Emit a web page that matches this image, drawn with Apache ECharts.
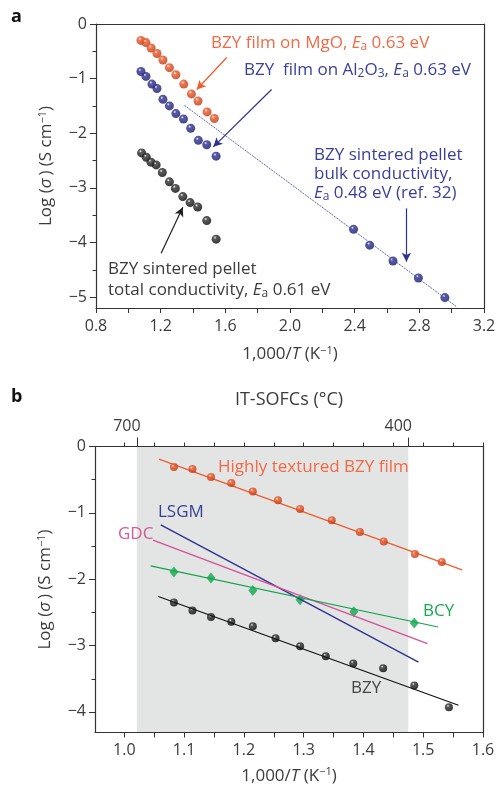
<!DOCTYPE html>
<html>
<head>
<meta charset="utf-8">
<script src="https://cdn.jsdelivr.net/npm/echarts@6.0.0/dist/echarts.min.js"></script>
<style>
html, body { margin: 0; padding: 0; background: #fff; }
#main { width: 499px; height: 786px; }
</style>
</head>
<body>
<div id="main"></div>
<script>
// panel a data
var mgoX = [1.078, 1.109, 1.141, 1.177, 1.214, 1.254, 1.294, 1.343, 1.390, 1.431, 1.487, 1.532];
var mgoY = [-0.30, -0.34, -0.44, -0.54, -0.66, -0.80, -0.93, -1.10, -1.28, -1.41, -1.61, -1.73];
var alX = [1.078, 1.109, 1.146, 1.177, 1.214, 1.254, 1.294, 1.341, 1.386, 1.433, 1.485, 1.543];
var alY = [-0.87, -0.96, -1.10, -1.18, -1.38, -1.50, -1.64, -1.74, -1.91, -2.13, -2.21, -2.42];
var totX = [1.082, 1.111, 1.140, 1.172, 1.210, 1.254, 1.291, 1.337, 1.382, 1.429, 1.485, 1.543];
var totY = [-2.36, -2.44, -2.53, -2.58, -2.72, -2.89, -3.01, -3.16, -3.27, -3.35, -3.60, -3.94];
var bulkX = [2.393, 2.493, 2.637, 2.794, 2.958];
var bulkY = [-3.76, -4.05, -4.34, -4.65, -5.01];
var bulkFitX = [1.347, 3.032];
var bulkFitY = [-1.49, -5.18];

// panel b data
var filmX = [1.083, 1.114, 1.145, 1.179, 1.215, 1.257, 1.294, 1.347, 1.394, 1.434, 1.486, 1.531];
var filmY = [-0.31, -0.34, -0.46, -0.55, -0.68, -0.81, -0.94, -1.11, -1.29, -1.43, -1.62, -1.74];
var filmFitX = [1.058, 1.565];
var filmFitY = [-0.19, -1.86];
var lsgmX = [1.061, 1.492];
var lsgmY = [-1.18, -3.25];
var gdcX = [1.048, 1.507];
var gdcY = [-1.41, -2.97];
var bcyX = [1.083, 1.145, 1.215, 1.294, 1.384, 1.485];
var bcyY = [-1.89, -1.98, -2.17, -2.31, -2.49, -2.66];
var bcyFitX = [1.044, 1.525];
var bcyFitY = [-1.80, -2.72];
var bzyX = [1.083, 1.114, 1.145, 1.179, 1.215, 1.253, 1.294, 1.337, 1.383, 1.433, 1.485, 1.543];
var bzyY = [-2.35, -2.47, -2.57, -2.64, -2.71, -2.89, -3.01, -3.16, -3.27, -3.34, -3.60, -3.93];
var bzyFitX = [1.057, 1.559];
var bzyFitY = [-2.26, -3.90];

// ticks
var aXTicks = [0.8, 1.0, 1.2, 1.4, 1.6, 1.8, 2.0, 2.2, 2.4, 2.6, 2.8, 3.0, 3.2];
var aXLabels = [0.8, 1.2, 1.6, 2.0, 2.4, 2.8, 3.2];
var aYLabels = [0, -1, -2, -3, -4, -5];
var aYMinor = [-0.5, -1.5, -2.5, -3.5, -4.5];
var bXTicks = [1.0, 1.05, 1.1, 1.15, 1.2, 1.25, 1.3, 1.35, 1.4, 1.45, 1.5, 1.55, 1.6];
var bXLabels = [1.0, 1.1, 1.2, 1.3, 1.4, 1.5, 1.6];
var bYLabels = [0, -1, -2, -3, -4];
var bYMinor = [-0.5, -1.5, -2.5, -3.5];
var tempTicks = [1.021, 1.475];
var tempLabels = ['700', '400'];
var sofcRange = [1.021, 1.475];

var ink = '#333';
var txt = '#3c3c3c';
var font = 'Open Sans';
var red = '#f15a29', navy = '#2e3192', pink = '#d6519a', green = '#10a64c';

function pairs(xs, ys) {
    return xs.map(function (x, i) { return [x, ys[i]]; });
}
function sphere(base, dark) {
    return {
        type: 'radial', x: 0.38, y: 0.32, r: 0.75,
        colorStops: [
            { offset: 0, color: '#ffffff' },
            { offset: 0.22, color: base },
            { offset: 1, color: dark }
        ]
    };
}
function yFmt(v) { return v === 0 ? '0' : '\u2212' + Math.abs(v); }
function nameStyle() {
    return {
        color: txt, fontSize: 17, fontFamily: font,
        rich: {
            i: { fontStyle: 'italic', color: txt, fontSize: 17, fontFamily: font },
            sup: { color: txt, fontSize: 11, fontFamily: font, padding: [0, 0, 8, 0] }
        }
    };
}
function lineAxis(grid, pos, min, max) {
    return {
        type: 'value', gridIndex: grid, position: pos, min: min, max: max, z: 5,
        axisLine: { onZero: false, lineStyle: { color: ink, width: 1.2 } },
        axisTick: { show: false }, axisLabel: { show: false }, splitLine: { show: false }
    };
}
function minorAxis(grid, pos, min, max, ticks, len) {
    return {
        type: 'value', gridIndex: grid, position: pos, min: min, max: max, z: 5,
        axisLine: { show: pos === 'top', onZero: false, lineStyle: { color: ink, width: 1.2 } },
        axisTick: { customValues: ticks, length: len, lineStyle: { color: ink } },
        axisLabel: { show: false }, splitLine: { show: false }
    };
}
function rich(color, size) {
    return {
        i: { fontStyle: 'italic', fill: color, fontSize: size, fontFamily: font },
        sub: { fill: color, fontSize: Math.round(size * 0.68), fontFamily: font, padding: [Math.round(size * 0.45), 0, 0, 0] }
    };
}
function note(x, y, text, color, lh) {
    return {
        type: 'text', x: x, y: y, z: 10,
        style: {
            text: text, fill: color, fontSize: 17, fontFamily: font,
            lineHeight: lh || 20, verticalAlign: 'middle', rich: rich(color, 17)
        }
    };
}
function arrow(x1, y1, x2, y2, color) {
    return [
        { coord: [x1, y1], lineStyle: { color: color, width: 1.2, type: 'solid' } },
        { coord: [x2, y2] }
    ];
}

var xName = '1,000/{i|T} (K{sup|\u22121})';
var yName = 'Log ({i|\u03c3}\u2009) (S cm{sup|\u22121})';

var chart = echarts.init(document.getElementById('main'));
var option = {
    animation: false,
    backgroundColor: '#fff',
    grid: [
        { left: 96, top: 24, right: 15, height: 284, outerBoundsMode: 'none' },
        { left: 95, top: 446.5, right: 16, height: 286, outerBoundsMode: 'none' }
    ],
    xAxis: [
        {
            type: 'value', gridIndex: 0, position: 'bottom', min: 0.8, max: 3.2, z: 5,
            axisLine: { onZero: false, lineStyle: { color: ink, width: 1.2 } },
            axisTick: { customValues: aXTicks, length: 5, lineStyle: { color: ink } },
            axisLabel: { customValues: aXLabels, formatter: function (v) { return v.toFixed(1); }, color: txt, fontSize: 16, fontFamily: font, margin: 10 },
            splitLine: { show: false },
            name: xName, nameLocation: 'middle', nameGap: 37, nameTextStyle: nameStyle()
        },
        lineAxis(0, 'top', 0.8, 3.2),
        {
            type: 'value', gridIndex: 1, position: 'bottom', min: 0.951, max: 1.6, z: 5,
            axisLine: { onZero: false, lineStyle: { color: ink, width: 1.2 } },
            axisTick: { customValues: bXTicks, length: 5, lineStyle: { color: ink } },
            axisLabel: { customValues: bXLabels, formatter: function (v) { return v.toFixed(1); }, color: txt, fontSize: 16, fontFamily: font, margin: 10 },
            splitLine: { show: false },
            name: xName, nameLocation: 'middle', nameGap: 34, nameTextStyle: nameStyle()
        },
        minorAxis(1, 'top', 0.951, 1.6, bXTicks, 4),
        {
            type: 'value', gridIndex: 1, position: 'top', min: 0.951, max: 1.6, z: 5,
            axisLine: { show: false, onZero: false },
            axisTick: { customValues: tempTicks, length: 9, lineStyle: { color: ink } },
            axisLabel: {
                customValues: tempTicks, margin: 12, padding: [0, 20, 0, 0],
                formatter: function (v) { return tempLabels[tempTicks.indexOf(v)]; },
                color: txt, fontSize: 16, fontFamily: font
            },
            splitLine: { show: false },
            name: 'IT-SOFCs (\u00b0C)', nameLocation: 'middle', nameGap: 38,
            nameTextStyle: { color: txt, fontSize: 18, fontFamily: font }
        }
    ],
    yAxis: [
        {
            type: 'value', gridIndex: 0, position: 'left', min: -5.2, max: 0, z: 5,
            axisLine: { onZero: false, lineStyle: { color: ink, width: 1.2 } },
            axisTick: { customValues: aYLabels, length: 6, lineStyle: { color: ink } },
            axisLabel: { customValues: aYLabels, formatter: yFmt, color: txt, fontSize: 16, fontFamily: font, margin: 9 },
            splitLine: { show: false },
            name: yName, nameLocation: 'middle', nameGap: 40, nameTextStyle: nameStyle()
        },
        minorAxis(0, 'left', -5.2, 0, aYMinor, 3.5),
        lineAxis(0, 'right', -5.2, 0),
        {
            type: 'value', gridIndex: 1, position: 'left', min: -4.31, max: 0, z: 5,
            axisLine: { onZero: false, lineStyle: { color: ink, width: 1.2 } },
            axisTick: { customValues: bYLabels, length: 6, lineStyle: { color: ink } },
            axisLabel: { customValues: bYLabels, formatter: yFmt, color: txt, fontSize: 16, fontFamily: font, margin: 9 },
            splitLine: { show: false },
            name: yName, nameLocation: 'middle', nameGap: 40, nameTextStyle: nameStyle()
        },
        minorAxis(1, 'left', -4.31, 0, bYMinor, 3.5),
        lineAxis(1, 'right', -4.31, 0)
    ],
    series: [
        // panel a
        {
            name: 'bulk fit', type: 'line', xAxisIndex: 0, yAxisIndex: 0, symbol: 'none',
            data: pairs(bulkFitX, bulkFitY),
            lineStyle: { color: '#4a52b0', width: 0.9, type: [2, 1] }
        },
        {
            name: 'MgO', type: 'scatter', xAxisIndex: 0, yAxisIndex: 0, symbolSize: 9,
            data: pairs(mgoX, mgoY), itemStyle: { color: sphere(red, '#b5320f') },
            markLine: {
                silent: true, symbol: ['none', 'arrow'], symbolSize: [7, 9], label: { show: false },
                data: [
                    arrow(1.609, -0.614, 1.423, -1.199, red),
                    arrow(1.886, -1.199, 1.526, -2.249, navy),
                    arrow(2.720, -3.375, 2.720, -4.351, navy),
                    arrow(1.203, -4.197, 1.337, -3.357, '#222')
                ]
            }
        },
        {
            name: 'Al2O3', type: 'scatter', xAxisIndex: 0, yAxisIndex: 0, symbolSize: 9,
            data: pairs(alX, alY), itemStyle: { color: sphere(navy, '#151766') }
        },
        {
            name: 'total', type: 'scatter', xAxisIndex: 0, yAxisIndex: 0, symbolSize: 9,
            data: pairs(totX, totY), itemStyle: { color: sphere('#333', '#000') }
        },
        {
            name: 'bulk', type: 'scatter', xAxisIndex: 0, yAxisIndex: 0, symbolSize: 9,
            data: pairs(bulkX, bulkY), itemStyle: { color: sphere(navy, '#151766') }
        },
        // panel b
        {
            name: 'film fit', type: 'line', xAxisIndex: 2, yAxisIndex: 3, symbol: 'none', z: 1,
            data: pairs(filmFitX, filmFitY), lineStyle: { color: red, width: 1.2 },
            markArea: {
                silent: true, itemStyle: { color: '#e3e4e4' },
                data: [[{ xAxis: sofcRange[0] }, { xAxis: sofcRange[1] }]]
            }
        },
        {
            name: 'LSGM', type: 'line', xAxisIndex: 2, yAxisIndex: 3, symbol: 'none',
            data: pairs(lsgmX, lsgmY), lineStyle: { color: navy, width: 1.3 }
        },
        {
            name: 'GDC', type: 'line', xAxisIndex: 2, yAxisIndex: 3, symbol: 'none',
            data: pairs(gdcX, gdcY), lineStyle: { color: pink, width: 1.3 }
        },
        {
            name: 'BCY fit', type: 'line', xAxisIndex: 2, yAxisIndex: 3, symbol: 'none',
            data: pairs(bcyFitX, bcyFitY), lineStyle: { color: green, width: 1.2 }
        },
        {
            name: 'BZY fit', type: 'line', xAxisIndex: 2, yAxisIndex: 3, symbol: 'none',
            data: pairs(bzyFitX, bzyFitY), lineStyle: { color: '#111', width: 1.2 }
        },
        {
            name: 'film', type: 'scatter', xAxisIndex: 2, yAxisIndex: 3, symbolSize: 8,
            data: pairs(filmX, filmY), itemStyle: { color: sphere(red, '#b5320f') }
        },
        {
            name: 'BCY', type: 'scatter', xAxisIndex: 2, yAxisIndex: 3, symbol: 'diamond', symbolSize: [9, 11],
            data: pairs(bcyX, bcyY), itemStyle: { color: green }
        },
        {
            name: 'BZY', type: 'scatter', xAxisIndex: 2, yAxisIndex: 3, symbolSize: 8,
            data: pairs(bzyX, bzyY), itemStyle: { color: sphere('#333', '#000') }
        }
    ],
    graphic: [
        { type: 'text', x: 11, y: 17, style: { text: 'a', fill: '#111', fontSize: 18, fontWeight: 'bold', fontFamily: font, verticalAlign: 'middle' } },
        { type: 'text', x: 11, y: 397, style: { text: 'b', fill: '#111', fontSize: 18, fontWeight: 'bold', fontFamily: font, verticalAlign: 'middle' } },
        note(211, 43, 'BZY film on MgO, {i|E}{sub|a} 0.63 eV', '#f26a45'),
        note(244, 70, 'BZY  film on Al{sub|2}O{sub|3}, {i|E}{sub|a} 0.63 eV', '#3b3f9a'),
        note(314, 174, 'BZY sintered pellet\nbulk conductivity,\n{i|E}{sub|a} 0.48 eV (ref. 32)', '#3b3f9a', 19),
        note(108, 279.5, 'BZY sintered pellet\ntotal conductivity, {i|E}{sub|a} 0.61 eV', '#3c3c3c', 20.5),
        note(218, 467, 'Highly textured BZY film', '#f26a45'),
        note(158, 512, 'LSGM', '#3a3f96'),
        note(118, 534, 'GDC', '#d45a9f'),
        note(423, 611, 'BCY', '#1aab4f'),
        note(351, 688, 'BZY', '#444')
    ]
};
chart.setOption(option);
</script>
</body>
</html>
